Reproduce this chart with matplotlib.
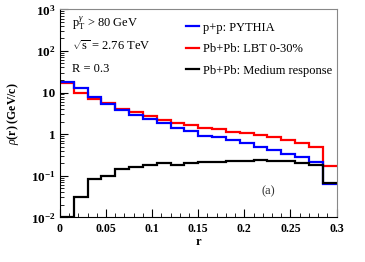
import numpy as np
import matplotlib
matplotlib.use('Agg')
import matplotlib.pyplot as plt
from matplotlib.ticker import FixedLocator, MultipleLocator, LogLocator, NullFormatter

plt.rcParams['font.family'] = 'Liberation Serif'
plt.rcParams['mathtext.fontset'] = 'custom'
plt.rcParams['mathtext.rm'] = 'Liberation Serif'
plt.rcParams['mathtext.it'] = 'Liberation Serif:italic'
plt.rcParams['mathtext.bf'] = 'Liberation Serif:bold'

# 20 bins of width 0.015 in r
r_edges = np.linspace(0.0, 0.3, 21)

# jet shape rho(r)
pp_pythia = [18.3, 12.7, 7.7, 5.4, 3.76, 2.9, 2.29, 1.8, 1.39, 1.17,
             0.91, 0.85, 0.73, 0.61, 0.49, 0.42, 0.34, 0.28, 0.21, 0.063]
pbpb_lbt = [16.7, 9.9, 6.9, 5.5, 4.04, 3.37, 2.7, 2.17, 1.9, 1.69,
            1.39, 1.32, 1.15, 1.06, 0.95, 0.85, 0.73, 0.61, 0.48, 0.167]
medium_resp = [0.01, 0.030, 0.084, 0.101, 0.147, 0.161, 0.18, 0.2, 0.18, 0.2,
               0.208, 0.208, 0.22, 0.229, 0.232, 0.229, 0.229, 0.2, 0.183, 0.066]

y_ticks = [1e-2, 1e-1, 1, 10, 1e2, 1e3]
y_ticklabels = [r'$\mathbf{10^{-2}}$', r'$\mathbf{10^{-1}}$', '1', '10',
                r'$\mathbf{10^{2}}$', r'$\mathbf{10^{3}}$']
x_ticks = [0, 0.05, 0.1, 0.15, 0.2, 0.25, 0.3]
x_ticklabels = ['0', '0.05', '0.1', '0.15', '0.2', '0.25', '0.3']

fig = plt.figure(figsize=(3.65, 2.62), dpi=100)
ax = fig.add_axes([0.164, 0.1706, 0.758, 0.7939])

ax.stairs(pbpb_lbt, r_edges, baseline=None, color='red', lw=1.6, label='Pb+Pb: LBT 0-30%')
ax.stairs(pp_pythia, r_edges, baseline=None, color='blue', lw=1.6, label='p+p: PYTHIA')
ax.stairs(medium_resp, r_edges, baseline=None, color='black', lw=1.6,
          label='Pb+Pb: Medium response')

ax.set_yscale('log')
ax.set_xlim(0, 0.3)
ax.set_ylim(1e-2, 1e3)

ax.yaxis.set_major_locator(FixedLocator(y_ticks))
ax.set_yticklabels(y_ticklabels, fontsize=9.5, fontweight='bold')
ax.yaxis.set_minor_locator(LogLocator(base=10, subs=np.arange(2, 10)))
ax.yaxis.set_minor_formatter(NullFormatter())
ax.set_xticks(x_ticks)
ax.set_xticklabels(x_ticklabels, fontsize=8.5, fontweight='bold')
ax.xaxis.set_minor_locator(MultipleLocator(0.01))

ax.tick_params(which='both', direction='in', top=False, right=False)
ax.tick_params(which='major', length=6, width=0.8)
ax.tick_params(which='minor', length=3, width=0.6)
ax.tick_params(axis='x', pad=4)
ax.tick_params(axis='y', pad=3)
for s in ['top', 'right']:
    ax.spines[s].set_color('#888888')

ax.set_xlabel('r', fontsize=9, fontweight='bold', labelpad=1)
ax.set_ylabel(r'$\rho$(r) (GeV/c)', fontsize=8.5, fontweight='bold', labelpad=7)

ax.text(0.045, 0.915, r'p$_{\mathrm{T}}^{\gamma}$ > 80 GeV', transform=ax.transAxes, fontsize=9)
ax.text(0.045, 0.805, r'$\sqrt{\mathrm{s}}$ = 2.76 TeV', transform=ax.transAxes, fontsize=9)
ax.text(0.045, 0.70, 'R = 0.3', transform=ax.transAxes, fontsize=9)
ax.text(0.73, 0.11, '(a)', transform=ax.transAxes, fontsize=9, color='#333333')

handles, labels = ax.get_legend_handles_labels()
order = [1, 0, 2]
ax.legend([handles[i] for i in order], [labels[i] for i in order],
          loc='upper left', bbox_to_anchor=(0.455, 0.94), frameon=False,
          fontsize=9, handlelength=1.1, handletextpad=0.3, labelspacing=0.75,
          borderpad=0, borderaxespad=0)

fig.savefig('out.png', dpi=100)
